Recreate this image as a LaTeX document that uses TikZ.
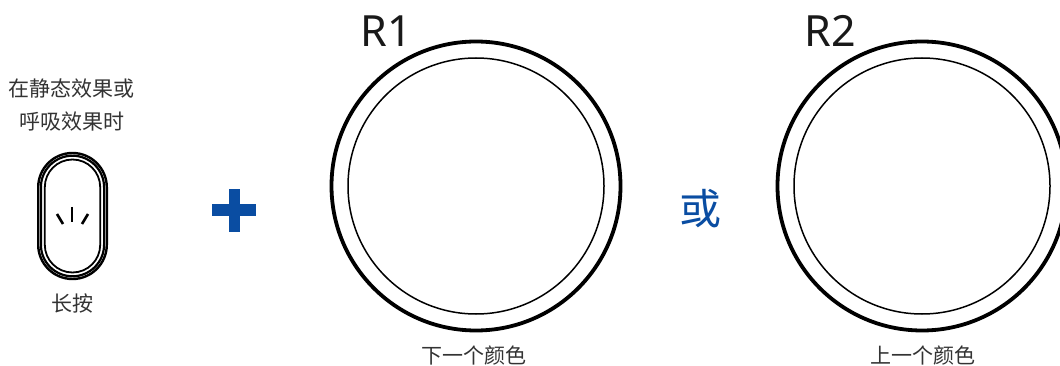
\documentclass[tikz,border=0pt]{standalone}
\usepackage{fontspec}
\setmainfont{Liberation Sans}
\newfontfamily\cjk{Noto Sans CJK SC}
\newfontfamily\latn{Noto Sans}
\definecolor{brandblue}{HTML}{0A4DA2}
\definecolor{captext}{HTML}{333333}
\tikzset{
  captxt/.style={font=\cjk\fontsize{21}{21}\selectfont, text=captext, inner sep=0pt, anchor=center},
  rlabel/.style={font=\latn\fontsize{43}{43}\selectfont, text=black!90, inner sep=0pt, anchor=center},
  ringouter/.style={draw=black, line width=3.8pt, circle, minimum size=289pt, inner sep=0pt},
  ringinner/.style={draw=black, line width=1.5pt, circle, minimum size=256pt, inner sep=0pt},
  tickseg/.style={draw=black, line width=2.6pt},
}
\begin{document}
\begin{tikzpicture}[x=1pt,y=-1pt]
\useasboundingbox (0,0) rectangle (1060,366);
\clip (0,0) rectangle (1060,366);
% captions
\node[captxt] (t1) at (72,89) {在静态效果或};
\node[captxt] (t2) at (72,122) {呼吸效果时};
\node[captxt] (t3) at (72,303) {长按};
\node[captxt] (t4) at (474,356) {下一个颜色};
\node[captxt] (t5) at (923,356) {上一个颜色};
% button
\draw[line width=2.4pt,rounded corners=34.3pt] (38.2,153) rectangle (106.8,279);
\draw[line width=2.2pt,rounded corners=31.6pt] (40.9,155.7) rectangle (104.1,276.3);
\draw[line width=1.8pt,rounded corners=27.7pt] (44.8,159.5) rectangle (100.2,272.5);
\draw[tickseg] (72,207) -- (72,222);
\draw[tickseg] (57,214) -- (63,224);
\draw[tickseg] (88,214) -- (82,224);
% plus
\fill[brandblue] (229,189) rectangle (240,232);
\fill[brandblue] (212,204) rectangle (255.5,216);
% rings
\node[ringouter] (r1o) at (476,186) {};
\node[ringinner] (r1i) at (476,186) {};
\node[ringouter] (r2o) at (922,186) {};
\node[ringinner] (r2i) at (922,186) {};
\node[rlabel] (r1) at (386,31) {R1};
\node[rlabel] (r2) at (830,31) {R2};
\node[font=\cjk\fontsize{42}{42}\selectfont,text=brandblue,inner sep=0pt] (or) at (700,209) {或};
\end{tikzpicture}
\end{document}
